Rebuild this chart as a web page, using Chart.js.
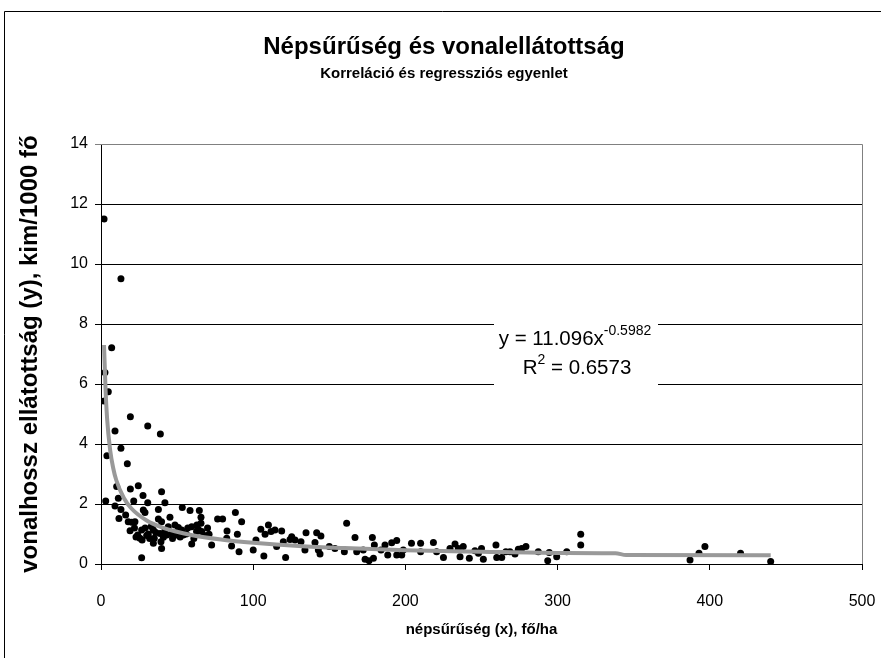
<!DOCTYPE html>
<html>
<head>
<meta charset="utf-8">
<script src="https://cdn.jsdelivr.net/npm/chart.js@4.4.1/dist/chart.umd.min.js"></script>
<style>
  html, body { margin: 0; padding: 0; background: #fff; }
</style>
</head>
<body>
<canvas id="densityChart" width="881" height="658"></canvas>
<script>
// népsűrűség (x), fő/ha
const densityX = [
  2, 13.1, 7, 2.6, 4.8, 2.2, 19.3, 30.7, 39, 9.2, 13.1, 3.9, 17.3, 3.1, 19.3, 24.5, 39.8, 27.6, 30.7, 42,
  21.5, 9.2, 11.4, 11.8, 13.1, 16.2, 27.8, 37.7, 53.4, 58.5, 64.6, 65.7, 76.6, 79.9, 88.3, 92.4, 82.8, 89.6, 105, 110,
  107.8, 114.3, 118.7, 124.2, 72.7, 59.6, 90.7, 100, 107, 121.3, 26.7, 39.8, 10.3,
  28.9, 20.2, 17.9, 22.3, 37.7, 39.8, 45.3, 44.2, 48.6, 50.8, 19.1, 24.1, 25.6, 26.7, 31.1, 34.4, 35, 38.8, 41,
  34.4, 39.4, 43.2, 46.4, 49.7, 53, 59.6, 62.8, 65.7, 66.2, 54,
  22, 23, 27, 29, 32, 33, 36, 30, 42, 47, 52, 56, 57, 61, 63, 68, 70,
  63.9, 71, 82.6, 85.8, 101.8, 111.7, 115.4, 119.8, 125.3, 127.5, 131.4,
  134.7, 134, 141.7, 144.5, 140.6, 143.9, 150, 142.8, 153.7, 159.9, 161.4, 166.9, 168, 172.3, 173.5, 176.1, 179, 178.3, 179.6,
  184, 186.6, 188.4, 191, 194.3, 194.3, 197.6, 198.6,
  204, 210, 210, 218.4, 220.5, 225, 229.3, 232.6, 234.8, 235.9, 238, 242, 245.7, 250, 251.2, 248, 259.5, 260, 263.3, 266,
  268.7, 272, 274.2, 276.4, 279.2, 287.3, 293.5, 294.5, 299.4, 306, 315.2, 315.2,
  387, 392.9, 396.8, 420.2, 440
];
// vonalhossz ellátottság (y), km/1000 fő
const supplyY = [
  11.5, 9.51, 7.21, 6.38, 5.74, 5.43, 4.91, 4.6, 4.33, 4.43, 3.86, 3.61, 3.34, 2.1, 2.5, 2.61, 2.41, 2.28, 2.04, 2.04,
  2.1, 1.93, 2.19, 1.52, 1.82, 1.63, 1.8, 1.82, 1.88, 1.78, 1.78, 1.56, 1.5, 1.5, 1.72, 1.41, 1.1, 0.99, 1.16, 1.3,
  0.99, 1.13, 1.1, 0.82, 0.63, 0.67, 0.41, 0.47, 0.27, 0.22, 0.21, 0.52, 2.58,
  1.72, 1.39, 1.41, 1.41, 1.5, 1.41, 1.56, 1.24, 1.3, 1.22, 1.11, 0.97, 0.86, 1.13, 1.0, 1.13, 0.86, 1.02, 0.89,
  0.69, 0.74, 0.97, 1.02, 0.97, 1.13, 1.24, 1.08, 1.36, 1.08, 0.97,
  1.2, 0.9, 0.8, 1.2, 0.85, 1.25, 1.05, 0.95, 1.1, 0.85, 0.9, 1.0, 1.2, 0.85, 1.3, 0.95, 1.2,
  1.16, 0.99, 0.86, 0.6, 0.8, 1.08, 0.58, 0.74, 0.91, 0.8, 0.74,
  1.04, 0.47, 1.04, 0.93, 0.72, 0.33, 0.58, 0.47, 0.52, 0.41, 1.36, 0.88, 0.41, 0.47, 0.16, 0.11, 0.19, 0.88, 0.63,
  0.47, 0.63, 0.3, 0.71, 0.78, 0.3, 0.3, 0.47,
  0.69, 0.69, 0.41, 0.72, 0.41, 0.22, 0.52, 0.67, 0.52, 0.24, 0.58, 0.19, 0.44, 0.52, 0.16, 0.36, 0.63, 0.22, 0.22, 0.41,
  0.41, 0.33, 0.49, 0.52, 0.58, 0.41, 0.11, 0.38, 0.24, 0.41, 0.99, 0.63,
  0.13, 0.36, 0.58, 0.36, 0.08
];

// hatványfüggvény trendvonal, ahogy a képen fut
const trendX = [2, 3, 4, 6, 8, 10, 15, 20, 30, 40, 60, 80, 100, 130, 160, 200, 250, 300, 338, 345, 440];
const trendY = [7.3, 5.8, 4.85, 3.8, 3.2, 2.8, 2.2, 1.85, 1.45, 1.22, 0.96, 0.81, 0.71, 0.6, 0.53, 0.46, 0.41, 0.37, 0.36, 0.3, 0.29];

const yTicks = [0, 2, 4, 6, 8, 10, 12, 14];
const xTicks = [0, 100, 200, 300, 400, 500];

const titleText = "Népsűrűség és vonalellátottság";
const subtitleText = "Korreláció és regressziós egyenlet";
const eqBase = "y = 11.096x";
const eqPower = "-0.5982";
const rSquared = "0.6573";

const FONT = "'Liberation Sans', Arial, sans-serif";

const points = densityX.map((x, i) => ({ x: x, y: supplyY[i] }));
const trend = trendX.map((x, i) => ({ x: x, y: trendY[i] }));

// frame, titles, plot border and the trendline label
const decorations = {
  id: "decorations",
  beforeDraw(chart) {
    const c = chart.ctx;
    c.save();
    c.fillStyle = "#fff";
    c.fillRect(0, 0, chart.width, chart.height);
    c.strokeStyle = "#000";
    c.lineWidth = 1;
    c.beginPath();
    c.moveTo(4.5, chart.height);
    c.lineTo(4.5, 11.5);
    c.lineTo(chart.width, 11.5);
    c.stroke();
    c.fillStyle = "#000";
    c.textAlign = "center";
    c.textBaseline = "middle";
    c.font = "bold 24px " + FONT;
    c.fillText(titleText, 444, 47);
    c.font = "bold 15px " + FONT;
    c.fillText(subtitleText, 444, 74);
    c.restore();
  },
  afterDraw(chart) {
    const c = chart.ctx;
    const a = chart.chartArea;
    c.save();
    c.strokeStyle = "#808080";
    c.lineWidth = 1;
    c.beginPath();
    c.moveTo(a.left, Math.round(a.top) + 0.5);
    c.lineTo(Math.round(a.right) + 0.5, Math.round(a.top) + 0.5);
    c.lineTo(Math.round(a.right) + 0.5, a.bottom);
    c.stroke();

    // label box of the trendline
    c.fillStyle = "#fff";
    c.fillRect(494, 318, 164, 74);
    c.fillStyle = "#000";
    c.textBaseline = "alphabetic";
    c.textAlign = "left";
    c.font = "20.5px " + FONT;
    const w1 = c.measureText(eqBase).width;
    c.font = "14px " + FONT;
    const w2 = c.measureText(eqPower).width;
    let x0 = 575 - (w1 + w2) / 2;
    c.font = "20.5px " + FONT;
    c.fillText(eqBase, x0, 345);
    c.font = "14px " + FONT;
    c.fillText(eqPower, x0 + w1, 335);

    const r1 = "R", r3 = " = " + rSquared;
    c.font = "20.5px " + FONT;
    const wr1 = c.measureText(r1).width, wr3 = c.measureText(r3).width;
    c.font = "14px " + FONT;
    const wr2 = c.measureText("2").width;
    x0 = 577 - (wr1 + wr2 + wr3) / 2;
    c.font = "20.5px " + FONT;
    c.fillText(r1, x0, 374);
    c.fillText(r3, x0 + wr1 + wr2, 374);
    c.font = "14px " + FONT;
    c.fillText("2", x0 + wr1, 364);
    c.restore();
  }
};

new Chart(document.getElementById("densityChart"), {
  type: "scatter",
  data: {
    datasets: [
      {
        label: "trend",
        type: "line",
        data: trend,
        borderColor: "#999999",
        borderWidth: 4,
        pointRadius: 0,
        cubicInterpolationMode: "monotone",
        fill: false,
        order: 0
      },
      {
        label: "települések",
        data: points,
        backgroundColor: "#000",
        borderWidth: 0,
        pointRadius: 3.5,
        order: 1
      }
    ]
  },
  options: {
    responsive: false,
    animation: false,
    layout: { padding: { top: 144, right: 19, left: 0, bottom: 0 } },
    plugins: {
      legend: { display: false },
      tooltip: { enabled: false }
    },
    scales: {
      x: {
        type: "linear",
        min: 0,
        max: 500,
        afterBuildTicks: (s) => { s.ticks = xTicks.map(v => ({ value: v })); },
        afterFit: (s) => { s.height = 94; s.paddingLeft = 0; s.paddingRight = 0; },
        grid: { drawOnChartArea: false, color: "#000", tickLength: 6 },
        border: { color: "#000" },
        ticks: { color: "#000", padding: 22, maxRotation: 0, font: { family: FONT, size: 16 } },
        title: {
          display: true,
          text: "népsűrűség (x), fő/ha",
          color: "#000",
          padding: { top: 0, bottom: 19 },
          font: { family: FONT, size: 15, weight: "bold" }
        }
      },
      y: {
        type: "linear",
        min: 0,
        max: 14,
        afterBuildTicks: (s) => { s.ticks = yTicks.map(v => ({ value: v })); },
        afterFit: (s) => { s.width = 101; },
        grid: {
          color: (ctx) => (ctx.tick && ctx.tick.value === 14 ? "#808080" : "#000"),
          tickLength: 6
        },
        border: { color: "#000" },
        ticks: { color: "#000", padding: 7, font: { family: FONT, size: 16 } },
        title: {
          display: true,
          text: "vonalhossz ellátottság (y), kim/1000 fő",
          color: "#000",
          padding: { top: 16, bottom: 0 },
          font: { family: FONT, size: 24, weight: "bold" }
        }
      }
    }
  },
  plugins: [decorations]
});
</script>
</body>
</html>
